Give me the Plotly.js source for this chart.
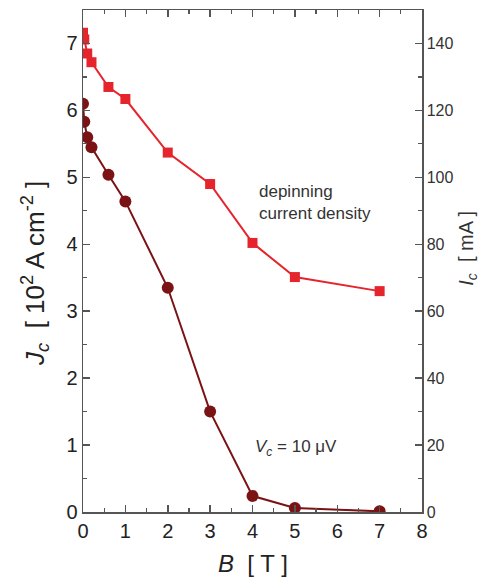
<!DOCTYPE html>
<html><head><meta charset="utf-8">
<script src="https://cdn.plot.ly/plotly-3.0.1.min.js"></script>
<style>body{margin:0;padding:0;background:#fff}#chart{width:488px;height:585px}</style>
</head><body><div id="chart"></div>
<script>
// Depinning current density (red squares)
const B_depin = [0, 0.03, 0.1, 0.2, 0.6, 1, 2, 3, 4, 5, 7];
const Jc_depin = [7.16, 7.06, 6.85, 6.72, 6.35, 6.17, 5.37, 4.9, 4.02, 3.51, 3.3];
// Vc = 10 uV criterion (dark red circles)
const B_vc = [0, 0.03, 0.1, 0.2, 0.6, 1, 2, 3, 4, 5, 7];
const Jc_vc = [6.1, 5.83, 5.6, 5.45, 5.04, 4.64, 3.35, 1.5, 0.24, 0.06, 0.01];
const xTicks = [0,1,2,3,4,5,6,7,8];
const yTicks = [0,1,2,3,4,5,6,7];
const y2Ticks = [0,20,40,60,80,100,120,140];

const red = '#e5242b', dark = '#7b1214', axc = '#555';
const traces = [
  {x: B_depin, y: Jc_depin, mode: 'lines+markers', type: 'scatter',
   line: {color: red, width: 2}, marker: {symbol: 'square', size: 10, color: red}},
  {x: B_vc, y: Jc_vc, mode: 'lines+markers', type: 'scatter',
   line: {color: dark, width: 2}, marker: {symbol: 'circle', size: 12, color: dark}},
  {x: [0], y: [0], yaxis: 'y2', mode: 'markers', marker: {opacity: 0}, hoverinfo: 'skip', showlegend: false}
];
const font = {family: 'Liberation Sans, Arial, sans-serif', color: '#222'};
const layout = {
  width: 488, height: 585, showlegend: false,
  margin: {l: 83, r: 66, t: 10, b: 73},
  paper_bgcolor: '#fff', plot_bgcolor: '#fff',
  font: font,
  xaxis: {range: [0, 8], tickvals: xTicks, ticktext: xTicks.map(String), showgrid: false, zeroline: false,
    showline: true, linecolor: axc, linewidth: 1.5, mirror: 'ticks', ticks: 'inside', ticklen: 7, tickcolor: axc, tickwidth: 1.5,
    minor: {dtick: 0.5, ticks: 'inside', ticklen: 4, tickcolor: axc, tickwidth: 1.2},
    tickfont: {size: 20, color: '#222'}},
  yaxis: {range: [0, 7.5], tickvals: yTicks, ticktext: yTicks.map(String), showgrid: false, zeroline: false,
    showline: true, linecolor: axc, linewidth: 1.5, ticks: 'inside', ticklen: 7, tickcolor: axc, tickwidth: 1.5,
    minor: {dtick: 0.5, ticks: 'inside', ticklen: 4, tickcolor: axc, tickwidth: 1.2},
    tickfont: {size: 20, color: '#222'}},
  yaxis2: {range: [0, 150], overlaying: 'y', side: 'right', tickvals: y2Ticks, ticktext: y2Ticks.map(String), showgrid: false, zeroline: false,
    showline: true, linecolor: axc, linewidth: 1.5, ticks: 'inside', ticklen: 7, tickcolor: axc, tickwidth: 1.5,
    minor: {dtick: 10, ticks: 'inside', ticklen: 4, tickcolor: axc, tickwidth: 1.2},
    tickfont: {size: 16, color: '#333'}},
  annotations: [
    {xref: 'paper', yref: 'paper', x: 0.5, y: -0.1016, xanchor: 'center', yanchor: 'middle', showarrow: false,
     text: '<i>B</i>  [ T ]', font: {size: 24, color: '#222'}},
    {xref: 'paper', yref: 'paper', x: -0.142, y: 0.476, xanchor: 'center', yanchor: 'middle', showarrow: false, textangle: -90,
     text: '<i>J</i><sub><i>c</i></sub>  [ 10<sup>2</sup> A cm<sup>-2</sup> ]', font: {size: 26, color: '#222'}},
    {xref: 'paper', yref: 'paper', x: 1.135, y: 0.526, xanchor: 'center', yanchor: 'middle', showarrow: false, textangle: -90,
     text: '<i>I</i><sub><i>c</i></sub>  [ mA ]', font: {size: 20, color: '#333'}},
    {xref: 'x', yref: 'y', x: 4.1, y: 4.62, xanchor: 'left', yanchor: 'middle', showarrow: false, align: 'left',
     text: 'depinning<br>current density', font: {size: 17, color: '#333'}},
    {xref: 'x', yref: 'y', x: 4.0, y: 0.96, xanchor: 'left', yanchor: 'middle', showarrow: false,
     text: '<i>V</i><sub><i>c</i></sub> = 10 μV', font: {size: 17, color: '#333'}}
  ]
};
Plotly.newPlot('chart', traces, layout, {displayModeBar: false, staticPlot: true});
</script></body></html>
